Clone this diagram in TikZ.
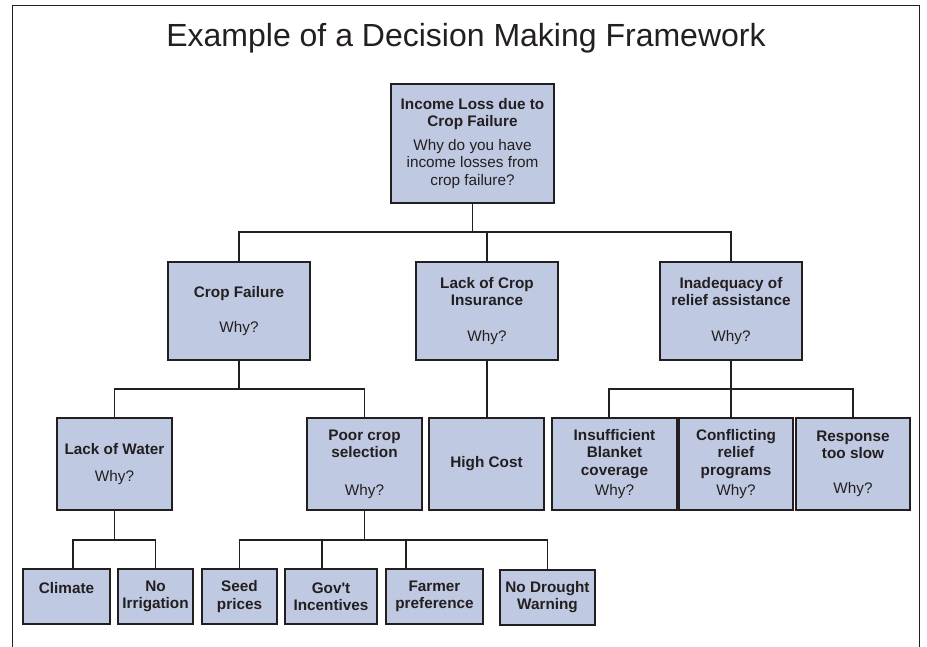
\documentclass[tikz,border=0pt]{standalone}
\usepackage{fontspec}
\setmainfont{Liberation Sans}
\usepackage{tikz}
\usetikzlibrary{positioning}
\definecolor{ink}{RGB}{35,31,32}
\definecolor{boxblue}{RGB}{192,201,226}
\newcommand{\boxfont}{\fontsize{15.3}{17.5}\selectfont}
\tikzset{
	decision tree/.style={x=1pt, y=-1pt, every node/.style={text=ink}},
	box/.style 2 args={draw=ink, fill=boxblue, line width=2pt,
		minimum width=#1, minimum height=#2, inner sep=0pt,
		align=center, font=\boxfont},
	top box/.style={box={163pt}{119pt}},
	mid box/.style={box={142pt}{98pt}},
	low box/.style={box={#1}{92pt}},
	leaf box/.style={box={#1}{55pt}},
	link/.style={draw=ink, line width=1.4pt},
	frame/.style={draw=ink, line width=1pt}
}

\begin{document}
\begin{tikzpicture}[decision tree]
  \useasboundingbox (0,0) rectangle (927,647);
  \draw[frame] (12,647) -- (12,6) -- (919,6) -- (919,647);
  \node[anchor=base, font=\fontsize{32}{36}\selectfont] (title) at (466,47)
        {Example of a Decision Making Framework};

  % root
  \node[top box] (root) at (472.5,143.5)
        {\textbf{Income Loss due to}\\\textbf{Crop Failure}\\[6pt]Why do you have\\income losses from\\crop failure?};

  % first level
  \node[mid box] (cf)  at (239,311) {\textbf{Crop Failure}\\[17.5pt]Why?};
  \node[mid box] (lci) at (487,311) {\textbf{Lack of Crop}\\\textbf{Insurance}\\[18pt]Why?};
  \node[mid box] (ri)  at (731,311) {\textbf{Inadequacy of}\\\textbf{relief assistance}\\[18pt]Why?};

  % second level
  \node[low box=115pt] (lw)  at (114.5,464) {\textbf{Lack of Water}\\[9.5pt]Why?};
  \node[low box=115pt] (pcs) at (364.5,464) {\textbf{Poor crop}\\\textbf{selection}\\[20pt]Why?};
  \node[low box=115pt] (hc)  at (486.5,464) {\textbf{High Cost}};
  \node[low box=125pt] (ins) at (614.5,464) {\textbf{Insufficient}\\\textbf{Blanket}\\\textbf{coverage}\\[2.5pt]Why?};
  \node[low box=114pt] (con) at (736,464)   {\textbf{Conflicting}\\\textbf{relief}\\\textbf{programs}\\[2.5pt]Why?};
  \node[low box=114pt] (rts) at (853,464)   {\textbf{Response}\\\textbf{too slow}\\[17.5pt]Why?};

  % third level
  \node[leaf box=87pt] (cl) at (66.5,596.5)  {\textbf{Climate}\\~};
  \node[leaf box=75pt] (ni) at (155.5,596.5) {\textbf{No}\\\textbf{Irrigation}};
  \node[leaf box=75pt] (sp) at (239.5,596.5) {\textbf{Seed}\\\textbf{prices}};
  \node[leaf box=92pt] (gi) at (331,596.5)   {\textbf{Gov\textquotesingle t}\\\textbf{Incentives}};
  \node[leaf box=97pt] (fp) at (434.5,596.5) {\textbf{Farmer}\\\textbf{preference}};
  \node[leaf box=95pt] (nd) at (547.5,597)   {\textbf{No Drought}\\\textbf{Warning}};

  \coordinate (busA) at (0,232);
  \coordinate (busB) at (0,389);
  \coordinate (busC) at (0,540);

  \draw[link] (root.south) -- (root.south |- busA);
  \draw[link] (cf.north) |- (ri.north |- busA) -- (ri.north);
  \draw[link] (lci.north) -- (lci.north |- busA);

  \draw[link] (cf.south) -- (cf.south |- busB);
  \draw[link] (lw.north) |- (pcs.north |- busB) -- (pcs.north);
  \draw[link] (lci.south) -- (hc.north -| lci.south);
  \draw[link] (ri.south) -- (con.north -| ri.south);
  \draw[link] ([xshift=-5.5pt]ins.north) |- (rts.north |- busB) -- (rts.north);

  \draw[link] (lw.south) -- (lw.south |- busC);
  \draw[link] ([xshift=6.5pt]cl.north) |- (ni.north |- busC) -- (ni.north);
  \draw[link] (pcs.south) -- (pcs.south |- busC);
  \draw[link] (sp.north) |- (nd.north |- busC) -- (nd.north);
  \draw[link] ([xshift=-9pt]gi.north) -- ([xshift=-9pt]gi.north |- busC);
  \draw[link] ([xshift=-28.5pt]fp.north) -- ([xshift=-28.5pt]fp.north |- busC);
\end{tikzpicture}
\end{document}
